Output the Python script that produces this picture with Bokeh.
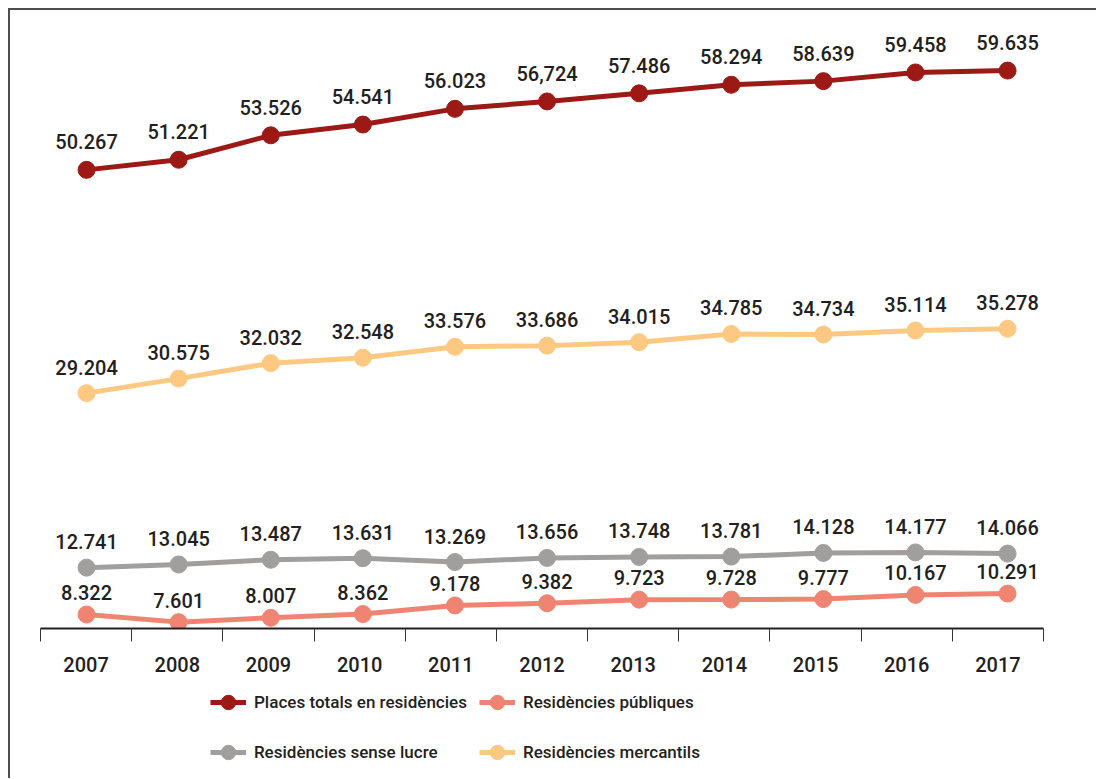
from bokeh.plotting import figure
from bokeh.layouts import column
from bokeh.models import (Range1d, LinearAxis, FixedTicker, Legend, LegendItem,
                          ColumnDataSource, CustomJSTickFormatter)
from bokeh.core.properties import value
from bokeh.embed import file_html
from bokeh.resources import INLINE

# ---- data ----
years = [2007, 2008, 2009, 2010, 2011, 2012, 2013, 2014, 2015, 2016, 2017]
places_totals = [50267, 51221, 53526, 54541, 56023, 56724, 57486, 58294, 58639, 59458, 59635]
places_totals_labels = ["50.267", "51.221", "53.526", "54.541", "56.023", "56,724",
                        "57.486", "58.294", "58.639", "59.458", "59.635"]
res_publiques = [8322, 7601, 8007, 8362, 9178, 9382, 9723, 9728, 9777, 10167, 10291]
res_sense_lucre = [12741, 13045, 13487, 13631, 13269, 13656, 13748, 13781, 14128, 14177, 14066]
res_mercantils = [29204, 30575, 32032, 32548, 33576, 33686, 34015, 34785, 34734, 35114, 35278]

series_names = ["Places totals en residències", "Residències públiques",
                "Residències sense lucre", "Residències mercantils"]
series_colors = ["#9c1915", "#f08473", "#a09f9e", "#fdc982"]
label_offsets = [-28, -22, -26, -26]


def fmt(vals):
    return [f"{v:,}".replace(",", ".") for v in vals]


series_values = [places_totals, res_publiques, res_sense_lucre, res_mercantils]
series_labels = [places_totals_labels, fmt(res_publiques), fmt(res_sense_lucre), fmt(res_mercantils)]

# ---- layout constants ----
W = 1086
H1, H2 = 670, 98
FRAME_LEFT, FRAME_W = 30, 1003
FRAME_BOTTOM = 618
PX_PER_K = 10.6
Y0 = 7000
y_end = Y0 + FRAME_BOTTOM * 1000.0 / PX_PER_K

TEXT = "#231f20"
FONT = "Roboto Medium"

p = figure(width=W, height=H1, output_backend="svg", toolbar_location=None,
           x_axis_type=None, y_axis_type=None,
           x_range=Range1d(2006.5, 2017.39), y_range=Range1d(Y0, y_end),
           min_border_left=FRAME_LEFT, min_border_right=W - FRAME_LEFT - FRAME_W,
           min_border_top=0, min_border_bottom=H1 - FRAME_BOTTOM)
p.outline_line_color = None
p.background_fill_color = "white"
p.border_fill_color = "white"

# category axis: labels at centres, tick marks at boundaries
p.extra_x_ranges = {"axis": Range1d(years[0] - 0.5, years[-1] + 0.5)}
ax = LinearAxis(x_range_name="axis")
ax.ticker = FixedTicker(ticks=years, minor_ticks=[y - 0.5 for y in years] + [years[-1] + 0.5])
ax.formatter = CustomJSTickFormatter(code="return String(Math.round(tick));")
ax.axis_line_color = TEXT
ax.axis_line_width = 2
ax.major_tick_out = 0
ax.major_tick_in = 0
ax.minor_tick_out = 13
ax.minor_tick_in = 0
ax.minor_tick_line_color = "#333333"
ax.minor_tick_line_width = 1
ax.major_label_standoff = 15
ax.major_label_text_font = FONT
ax.major_label_text_font_size = "20px"
ax.major_label_text_color = TEXT
p.add_layout(ax, "below")

# legend strip (its own small figure below the chart)
pl = figure(width=W, height=H2, output_backend="svg", toolbar_location=None,
            x_axis_type=None, y_axis_type=None,
            x_range=Range1d(0, 1), y_range=Range1d(0, 1),
            min_border_left=0, min_border_right=0, min_border_top=0, min_border_bottom=0)
pl.outline_line_color = None
pl.background_fill_color = "white"
pl.border_fill_color = "white"

items = []
for name, color, vals, labs, off in zip(series_names, series_colors, series_values,
                                        series_labels, label_offsets):
    src = ColumnDataSource(dict(x=years, y=vals, t=labs))
    p.line("x", "y", source=src, line_color=color, line_width=5)
    p.scatter("x", "y", source=src, size=17, fill_color=color, line_color=color)
    p.text("x", "y", text="t", source=src, text_align="center", text_baseline="alphabetic",
           y_offset=off, text_font=value(FONT), text_font_size="20px", text_color=TEXT)
    # same series in the legend strip (outside its view; used for the legend glyphs)
    ln = pl.line("x", "y", source=src, line_color=color, line_width=5)
    sc = pl.scatter("x", "y", source=src, size=17, fill_color=color, line_color=color)
    items.append(LegendItem(label=name, renderers=[ln, sc]))

legend = Legend(items=items, orientation="horizontal", ncols=2,
                glyph_width=36, glyph_height=38, label_standoff=8, spacing=12,
                padding=0, margin=0, border_line_color=None, background_fill_alpha=0,
                label_text_font=FONT, label_text_font_size="17px",
                label_text_color=TEXT, location=(170, 7))
pl.add_layout(legend, "center")

layout = column(p, pl, spacing=0)
layout.styles = {"margin-left": "8px", "margin-top": "8px",
                 "border-left": "2px solid #4d4d4d", "border-top": "2px solid #4d4d4d"}

open("out.html", "w").write(file_html(layout, INLINE))
